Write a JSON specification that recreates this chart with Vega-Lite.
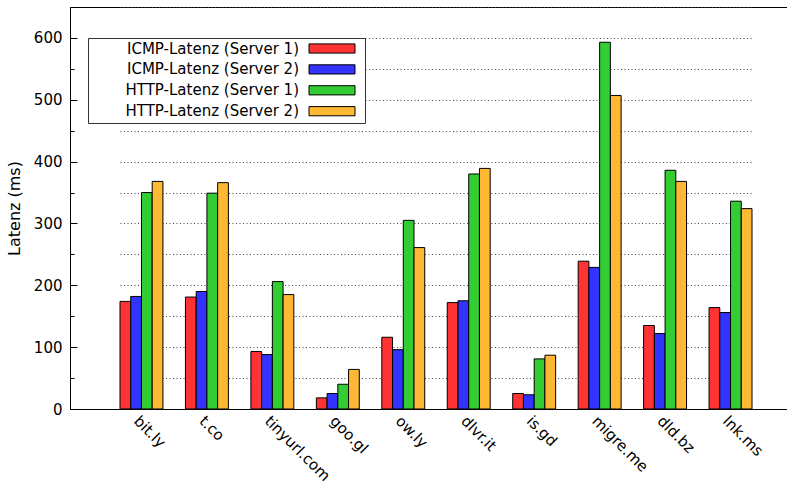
{
  "$schema": "https://vega.github.io/schema/vega-lite/v6.json",
  "width": 717,
  "height": 402,
  "autosize": {"type": "none"},
  "padding": {"left": 70, "top": 7, "right": 0, "bottom": 74},
  "background": "white",
  "config": {
    "font": "DejaVu Sans",
    "view": {"stroke": "black", "strokeWidth": 1}
  },
  "data": {
    "values": [
      {"site": "bit.ly", "series": "ICMP-Latenz (Server 1)", "value": 174},
      {"site": "bit.ly", "series": "ICMP-Latenz (Server 2)", "value": 182},
      {"site": "bit.ly", "series": "HTTP-Latenz (Server 1)", "value": 350},
      {"site": "bit.ly", "series": "HTTP-Latenz (Server 2)", "value": 368},
      {"site": "t.co", "series": "ICMP-Latenz (Server 1)", "value": 181},
      {"site": "t.co", "series": "ICMP-Latenz (Server 2)", "value": 190},
      {"site": "t.co", "series": "HTTP-Latenz (Server 1)", "value": 349},
      {"site": "t.co", "series": "HTTP-Latenz (Server 2)", "value": 366},
      {"site": "tinyurl.com", "series": "ICMP-Latenz (Server 1)", "value": 93},
      {"site": "tinyurl.com", "series": "ICMP-Latenz (Server 2)", "value": 88},
      {"site": "tinyurl.com", "series": "HTTP-Latenz (Server 1)", "value": 206},
      {"site": "tinyurl.com", "series": "HTTP-Latenz (Server 2)", "value": 185},
      {"site": "goo.gl", "series": "ICMP-Latenz (Server 1)", "value": 18},
      {"site": "goo.gl", "series": "ICMP-Latenz (Server 2)", "value": 25},
      {"site": "goo.gl", "series": "HTTP-Latenz (Server 1)", "value": 40},
      {"site": "goo.gl", "series": "HTTP-Latenz (Server 2)", "value": 64},
      {"site": "ow.ly", "series": "ICMP-Latenz (Server 1)", "value": 116},
      {"site": "ow.ly", "series": "ICMP-Latenz (Server 2)", "value": 96},
      {"site": "ow.ly", "series": "HTTP-Latenz (Server 1)", "value": 305},
      {"site": "ow.ly", "series": "HTTP-Latenz (Server 2)", "value": 261},
      {"site": "dlvr.it", "series": "ICMP-Latenz (Server 1)", "value": 172},
      {"site": "dlvr.it", "series": "ICMP-Latenz (Server 2)", "value": 175},
      {"site": "dlvr.it", "series": "HTTP-Latenz (Server 1)", "value": 380},
      {"site": "dlvr.it", "series": "HTTP-Latenz (Server 2)", "value": 389},
      {"site": "is.gd", "series": "ICMP-Latenz (Server 1)", "value": 25},
      {"site": "is.gd", "series": "ICMP-Latenz (Server 2)", "value": 23},
      {"site": "is.gd", "series": "HTTP-Latenz (Server 1)", "value": 81},
      {"site": "is.gd", "series": "HTTP-Latenz (Server 2)", "value": 87},
      {"site": "migre.me", "series": "ICMP-Latenz (Server 1)", "value": 239},
      {"site": "migre.me", "series": "ICMP-Latenz (Server 2)", "value": 229},
      {"site": "migre.me", "series": "HTTP-Latenz (Server 1)", "value": 593},
      {"site": "migre.me", "series": "HTTP-Latenz (Server 2)", "value": 507},
      {"site": "dld.bz", "series": "ICMP-Latenz (Server 1)", "value": 135},
      {"site": "dld.bz", "series": "ICMP-Latenz (Server 2)", "value": 122},
      {"site": "dld.bz", "series": "HTTP-Latenz (Server 1)", "value": 386},
      {"site": "dld.bz", "series": "HTTP-Latenz (Server 2)", "value": 368},
      {"site": "lnk.ms", "series": "ICMP-Latenz (Server 1)", "value": 164},
      {"site": "lnk.ms", "series": "ICMP-Latenz (Server 2)", "value": 156},
      {"site": "lnk.ms", "series": "HTTP-Latenz (Server 1)", "value": 336},
      {"site": "lnk.ms", "series": "HTTP-Latenz (Server 2)", "value": 324}
    ]
  },
  "mark": {"type": "bar", "stroke": "black", "strokeWidth": 1, "opacity": 1},
  "encoding": {
    "x": {
      "field": "site",
      "type": "nominal",
      "sort": null,
      "scale": {"range": [50, 682], "paddingInner": 0.344, "paddingOuter": 0},
      "axis": {
        "title": null,
        "labelAngle": 45,
        "labelAlign": "left",
        "labelBaseline": "top",
        "labelFontSize": 15,
        "labelColor": "black",
        "labelPadding": 4,
        "ticks": false,
        "domain": true,
        "domainColor": "black",
        "grid": false
      }
    },
    "xOffset": {
      "field": "series",
      "type": "nominal",
      "sort": ["ICMP-Latenz (Server 1)", "ICMP-Latenz (Server 2)", "HTTP-Latenz (Server 1)", "HTTP-Latenz (Server 2)"],
      "scale": {"paddingInner": 0, "paddingOuter": 0}
    },
    "y": {
      "field": "value",
      "type": "quantitative",
      "scale": {"domain": [0, 650], "nice": false, "zero": true},
      "axis": {
        "title": "Latenz (ms)",
        "titleFontSize": 16,
        "titleFontWeight": "normal",
        "titleColor": "black",
        "titlePadding": 11,
        "values": [0, 50, 100, 150, 200, 250, 300, 350, 400, 450, 500, 550, 600, 650],
        "labelExpr": "datum.value % 100 === 0 ? datum.label : ''",
        "labelFontSize": 15,
        "labelColor": "black",
        "labelPadding": 15,
        "domainColor": "black",
        "tickColor": "black",
        "tickSize": {"condition": {"test": "datum.value % 100 === 0", "value": -7}, "value": -4},
        "grid": true,
        "gridColor": "#444",
        "gridDash": [1, 2.5],
        "gridWidth": 1
      }
    },
    "color": {
      "field": "series",
      "type": "nominal",
      "scale": {
        "domain": ["ICMP-Latenz (Server 1)", "ICMP-Latenz (Server 2)", "HTTP-Latenz (Server 1)", "HTTP-Latenz (Server 2)"],
        "range": ["#ff3333", "#3333ff", "#33cc33", "#ffb833"]
      },
      "legend": {
        "title": null,
        "orient": "none",
        "legendX": 18,
        "legendY": 31,
        "symbolType": "M-3.2857,-0.657H3.2857V0.657H-3.2857ZM4.0,0",
        "symbolSize": 196,
        "symbolStrokeColor": "black",
        "symbolStrokeWidth": 1,
        "symbolFillOpacity": 1,
        "symbolOffset": 233.5,
        "labelAlign": "right",
        "labelBaseline": "middle",
        "labelOffset": -40.5,
        "labelFontSize": 15,
        "labelColor": "black",
        "labelLimit": 400,
        "rowPadding": 4.9,
        "padding": 3,
        "fillColor": "white",
        "strokeColor": "#333"
      }
    }
  }
}
